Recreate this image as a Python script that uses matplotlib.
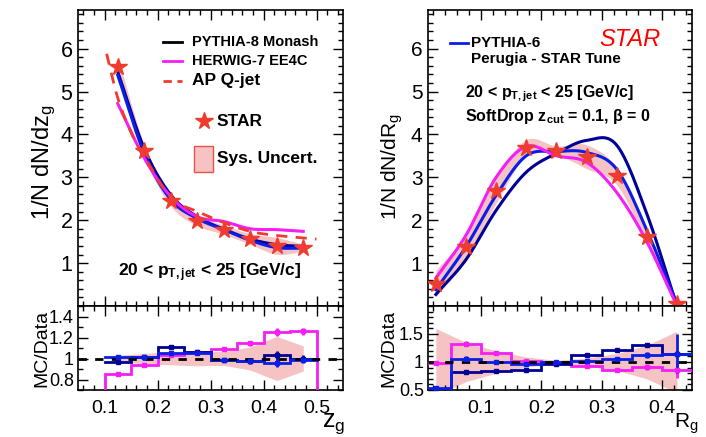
import numpy as np
import matplotlib
matplotlib.use("Agg")
import matplotlib.pyplot as plt
from matplotlib.lines import Line2D
from matplotlib.patches import Rectangle
from matplotlib.ticker import MultipleLocator

plt.rcParams['font.family'] = ['Liberation Sans', 'DejaVu Sans']
plt.rcParams['mathtext.fontset'] = 'custom'
plt.rcParams['mathtext.rm'] = 'Liberation Sans'
plt.rcParams['mathtext.it'] = 'Liberation Sans:italic'
plt.rcParams['mathtext.bf'] = 'Liberation Sans:bold'

# ---------------- z_g distribution ----------------
zg_centers = [0.125, 0.175, 0.225, 0.275, 0.325, 0.375, 0.425, 0.475]
zg_edges = [0.10, 0.15, 0.20, 0.25, 0.30, 0.35, 0.40, 0.45, 0.50]
zg_star = [5.57, 3.62, 2.45, 1.99, 1.78, 1.56, 1.40, 1.36]
zg_sys_rel = [0.04, 0.04, 0.05, 0.06, 0.06, 0.08, 0.14, 0.06]
zg_pythia8 = [5.46, 3.67, 2.59, 2.08, 1.79, 1.56, 1.43, 1.39]
zg_pythia6 = [5.38, 3.56, 2.48, 2.04, 1.78, 1.53, 1.36, 1.35]
zg_herwig = [4.72, 3.45, 2.55, 2.08, 1.97, 1.80, 1.78, 1.74]
zg_ap_x = [0.104, 0.125, 0.150, 0.177, 0.226, 0.276, 0.328, 0.378, 0.428, 0.500]
zg_ap_y = [5.88, 4.85, 4.05, 3.45, 2.52, 2.20, 1.93, 1.73, 1.64, 1.56]

zg_ratio_p8 = [0.97, 1.01, 1.11, 1.06, 0.985, 0.98, 1.03, 1.00]
zg_ratio_p6 = [1.01, 1.01, 1.05, 1.05, 0.985, 0.975, 0.96, 0.99]
zg_ratio_hw = [0.85, 0.935, 1.03, 1.06, 1.09, 1.145, 1.25, 1.26]
zg_ratio_err = [0.02, 0.02, 0.02, 0.02, 0.02, 0.025, 0.04, 0.035]
zg_ratio_sys = [0.03, 0.05, 0.06, 0.07, 0.065, 0.11, 0.21, 0.12]

# ---------------- R_g distribution ----------------
rg_centers = [0.025, 0.075, 0.125, 0.175, 0.225, 0.275, 0.325, 0.375, 0.425]
rg_edges = [0.0, 0.05, 0.10, 0.15, 0.20, 0.25, 0.30, 0.35, 0.40, 0.45]
rg_star = [0.52, 1.38, 2.69, 3.69, 3.62, 3.48, 3.02, 1.62, 0.05]
rg_sys_rel = [0.6, 0.2, 0.11, 0.05, 0.03, 0.08, 0.065, 0.10, 0.6]
rg_pythia8 = [0.27, 1.08, 2.23, 3.12, 3.56, 3.86, 3.75, 2.15, 0.0]
rg_pythia6 = [0.38, 1.38, 2.58, 3.50, 3.60, 3.58, 3.19, 1.77, 0.05]
rg_herwig = [0.65, 1.65, 3.00, 3.72, 3.50, 3.35, 2.65, 1.50, 0.0]

rg_ratio_p8 = [0.50, 0.82, 0.84, 0.86, 0.97, 1.13, 1.21, 1.31, 1.15]
rg_ratio_p6 = [0.54, 1.06, 1.00, 0.96, 1.00, 1.02, 1.06, 1.13, 1.15]
rg_ratio_hw = [0.98, 1.33, 1.16, 1.01, 0.98, 0.93, 0.86, 0.91, 0.86]
rg_err_p8 = [0.02, 0.02, 0.02, 0.02, 0.02, 0.02, 0.02, 0.03, 0.05]
rg_err_p6 = [0.03, 0.05, 0.03, 0.02, 0.02, 0.02, 0.03, 0.05, 0.35]
rg_err_hw = [0.04, 0.04, 0.03, 0.02, 0.02, 0.02, 0.03, 0.05, 0.15]
rg_ratio_sys = [0.6, 0.35, 0.2, 0.09, 0.03, 0.07, 0.15, 0.3, 0.55]

NAVY = '#000096'
BLUE = '#0a1ee6'
MAGENTA = '#f51ef5'
RED = '#f03c2e'
PINK = '#f5c3c3'

W, H = 706, 437


def fx(x):
    return x / W


def fy(y):
    return 1 - y / H


def smooth(x, y, n=20):
    """Catmull-Rom curve through the given points (for drawing only)."""
    x = np.asarray(x, float)
    y = np.asarray(y, float)
    px = np.concatenate([[2 * x[0] - x[1]], x, [2 * x[-1] - x[-2]]])
    py = np.concatenate([[2 * y[0] - y[1]], y, [2 * y[-1] - y[-2]]])
    t = np.linspace(0, 1, n, endpoint=False)
    xs, ys = [], []
    for i in range(1, len(px) - 2):
        for arr, out in ((px, xs), (py, ys)):
            p0, p1, p2, p3 = arr[i - 1], arr[i], arr[i + 1], arr[i + 2]
            out.extend(0.5 * ((2 * p1) + (-p0 + p2) * t
                              + (2 * p0 - 5 * p1 + 4 * p2 - p3) * t ** 2
                              + (-p0 + 3 * p1 - 3 * p2 + p3) * t ** 3))
    xs.append(x[-1])
    ys.append(y[-1])
    return np.array(xs), np.array(ys)


def style_axes(ax, xmajor, xminor, ymajor, yminor):
    ax.xaxis.set_major_locator(MultipleLocator(xmajor))
    ax.xaxis.set_minor_locator(MultipleLocator(xminor))
    ax.yaxis.set_major_locator(MultipleLocator(ymajor))
    ax.yaxis.set_minor_locator(MultipleLocator(yminor))
    ax.tick_params(which='both', direction='in', top=True, right=True,
                   width=1.0, colors='black')
    ax.tick_params(which='major', length=7)
    ax.tick_params(which='minor', length=3.5)
    for s in ax.spines.values():
        s.set_linewidth(1.2)


def step_line(ax, edges, vals, color, drop=False, lw=2.0):
    xs, ys = [], []
    for i, v in enumerate(vals):
        xs += [edges[i], edges[i + 1]]
        ys += [v, v]
    if drop:
        xs = [edges[0]] + xs + [edges[-1]]
        ys = [0] + ys + [0]
    ax.plot(xs, ys, color=color, lw=lw, solid_joinstyle='miter', zorder=3)


fig = plt.figure(figsize=(W / 100, H / 100), dpi=100)

axL = fig.add_axes([fx(78), fy(306), fx(343 - 78), (306 - 10) / H])
axLr = fig.add_axes([fx(78), fy(390), fx(343 - 78), (390 - 306) / H], sharex=axL)
axR = fig.add_axes([fx(428), fy(306), fx(692 - 428), (306 - 10) / H])
axRr = fig.add_axes([fx(428), fy(390), fx(692 - 428), (390 - 306) / H], sharex=axR)

# ---- left, top ----
zc = np.array(zg_centers)
zs = np.array(zg_star)
zrel = np.array(zg_sys_rel)
bx, blo = smooth(zc, zs * (1 - zrel))
_, bhi = smooth(zc, zs * (1 + zrel))
axL.fill_between(bx, blo, bhi, color=PINK, lw=0, zorder=1)
for vals, col in ((zg_pythia8, NAVY), (zg_pythia6, BLUE), (zg_herwig, MAGENTA)):
    sx, sy = smooth(zg_centers, vals)
    axL.plot(sx, sy, color=col, lw=2.2, zorder=3)
sx, sy = smooth(zg_ap_x, zg_ap_y)
axL.plot(sx, sy, color=RED, lw=2.0, dashes=(4, 3), zorder=3)
axL.plot(zg_centers, zg_star, ls='none', marker='*', ms=13, color=RED, mec=RED, zorder=5)
axL.set_xlim(0.05, 0.55)
axL.set_ylim(0, 6.9)
style_axes(axL, 0.1, 0.02, 1, 0.2)
axL.set_yticks([1, 2, 3, 4, 5, 6])
axL.tick_params(labelbottom=False, labelsize=15.5, pad=4)

# ---- left, ratio ----
zr = np.array(zg_ratio_sys)
axLr.fill_between(zg_centers, 1 - zr, 1 + zr, color=PINK, lw=0, zorder=1)
axLr.axhline(1, color='black', lw=2.0, dashes=(3, 3), zorder=4)
step_line(axLr, zg_edges, zg_ratio_hw, MAGENTA, drop=True)
step_line(axLr, zg_edges, zg_ratio_p8, NAVY)
step_line(axLr, zg_edges, zg_ratio_p6, BLUE)
for vals, col in ((zg_ratio_hw, MAGENTA), (zg_ratio_p8, NAVY), (zg_ratio_p6, BLUE)):
    axLr.errorbar(zg_centers, vals, yerr=zg_ratio_err, fmt='s', ms=3, color=col,
                  ecolor=col, elinewidth=2, capsize=0, zorder=5)
axLr.set_ylim(0.7, 1.5)
style_axes(axLr, 0.1, 0.02, 0.2, 0.1)
axLr.set_yticks([0.8, 1.0, 1.2, 1.4])
axLr.set_yticklabels(['0.8', '1', '1.2', '1.4'])
axLr.set_xticks([0.1, 0.2, 0.3, 0.4, 0.5])
axLr.set_xticklabels(['0.1', '0.2', '0.3', '0.4', '0.5'])
axLr.tick_params(axis='y', labelsize=13, pad=3)
axLr.tick_params(axis='x', labelsize=14, pad=7)

# ---- right, top ----
rc = np.array(rg_centers)
rs = np.array(rg_star)
rrel = np.array(rg_sys_rel)
bx, blo = smooth(rc, rs * (1 - rrel))
_, bhi = smooth(rc, rs * (1 + rrel))
axR.fill_between(bx, blo, bhi, color=PINK, lw=0, zorder=1)
for vals, col in ((rg_pythia8, NAVY), (rg_pythia6, BLUE), (rg_herwig, MAGENTA)):
    sx, sy = smooth(rg_centers, vals)
    axR.plot(sx, sy, color=col, lw=2.2, zorder=3)
axR.plot(rg_centers, rg_star, ls='none', marker='*', ms=13, color=RED, mec=RED, zorder=5)
axR.set_xlim(0.012, 0.45)
axR.set_ylim(0, 6.9)
style_axes(axR, 0.1, 0.02, 1, 0.2)
axR.set_yticks([1, 2, 3, 4, 5, 6])
axR.tick_params(labelbottom=False, labelsize=15, pad=4)

# ---- right, ratio ----
rr = np.array(rg_ratio_sys)
axRr.fill_between(rg_centers, 1 - rr, 1 + rr, color=PINK, lw=0, zorder=1)
axRr.axhline(1, color='black', lw=2.0, dashes=(3, 3), zorder=4)
step_line(axRr, rg_edges, rg_ratio_hw, MAGENTA)
step_line(axRr, rg_edges, rg_ratio_p8, NAVY)
step_line(axRr, rg_edges, rg_ratio_p6, BLUE)
for vals, err, col in ((rg_ratio_hw, rg_err_hw, MAGENTA), (rg_ratio_p8, rg_err_p8, NAVY),
                       (rg_ratio_p6, rg_err_p6, BLUE)):
    axRr.errorbar(rg_centers, vals, yerr=err, fmt='s', ms=3, color=col,
                  ecolor=col, elinewidth=2, capsize=0, zorder=5)
axRr.set_ylim(0.5, 2.0)
style_axes(axRr, 0.1, 0.02, 0.5, 0.1)
axRr.set_yticks([0.5, 1.0, 1.5])
axRr.set_yticklabels(['0.5', '1', '1.5'])
axRr.set_xticks([0.1, 0.2, 0.3, 0.4])
axRr.set_xticklabels(['0.1', '0.2', '0.3', '0.4'])
axRr.tick_params(axis='y', labelsize=13, pad=3)
axRr.tick_params(axis='x', labelsize=14, pad=7)

# ---- axis titles ----
fig.text(fx(44), fy(220), r'1/N dN/dz$_{\rm g}$', rotation=90, ha='center', va='bottom',
         fontsize=17)
fig.text(fx(42), fy(348), 'MC/Data', rotation=90, ha='center', va='center', fontsize=14)
fig.text(fx(334), fy(424), r'z$_{\rm g}$', ha='center', va='center', fontsize=18)
fig.text(fx(686), fy(424), r'R$_{\rm g}$', ha='center', va='center', fontsize=15)
fig.text(fx(392), fy(220), r'1/N dN/dR$_{\rm g}$', rotation=90, ha='center', va='bottom',
         fontsize=15)
fig.text(fx(389), fy(348), 'MC/Data', rotation=90, ha='center', va='center', fontsize=14)

# ---- left legend ----
for yy, col, dash in ((42, 'black', None), (61, MAGENTA, None), (81, RED, (3, 2))):
    ln = Line2D([fx(163), fx(182)], [fy(yy), fy(yy)], color=col, lw=2.0,
                transform=fig.transFigure)
    if dash:
        ln.set_dashes(dash)
    fig.add_artist(ln)
fig.text(fx(192), fy(42), 'PYTHIA-8 Monash', fontsize=10.5, fontweight='bold', va='center')
fig.text(fx(192), fy(61), 'HERWIG-7 EE4C', fontsize=10.5, fontweight='bold', va='center')
fig.text(fx(192), fy(81), 'AP Q-jet', fontsize=12.5, fontweight='bold', va='center')
fig.add_artist(Line2D([fx(204)], [fy(121)], marker='*', ms=13, color=RED, mec=RED,
                      transform=fig.transFigure))
fig.text(fx(217), fy(121), 'STAR', fontsize=12.5, fontweight='bold', va='center')
fig.add_artist(Rectangle((fx(194), fy(172)), fx(19), (172 - 146) / H, facecolor=PINK,
                         edgecolor='#e8524a', lw=1.0, transform=fig.transFigure))
fig.text(fx(217), fy(159), 'Sys. Uncert.', fontsize=12.5, fontweight='bold', va='center')
fig.text(fx(118), fy(273), r'20 < p$_{\bf T,jet}$ < 25 [GeV/c]', fontsize=12.5,
         fontweight='bold', va='center')

# ---- right legend ----
fig.add_artist(Line2D([fx(450), fx(468)], [fy(43), fy(43)], color=BLUE, lw=2.0,
                      transform=fig.transFigure))
fig.text(fx(471), fy(43), 'PYTHIA-6', fontsize=11, fontweight='bold', va='center')
fig.text(fx(471), fy(59), 'Perugia - STAR Tune', fontsize=11, fontweight='bold', va='center')
fig.text(fx(599), fy(39), 'STAR', fontsize=17, style='italic', color='red', va='center')
fig.text(fx(465), fy(94), r'20 < p$_{\bf T,jet}$ < 25 [GeV/c]', fontsize=11.5,
         fontweight='bold', va='center')
fig.text(fx(465), fy(117), r'SoftDrop z$_{\bf cut}$ = 0.1, $\bf\beta$ = 0', fontsize=11.5,
         fontweight='bold', va='center')

fig.savefig('out.png', dpi=100)
